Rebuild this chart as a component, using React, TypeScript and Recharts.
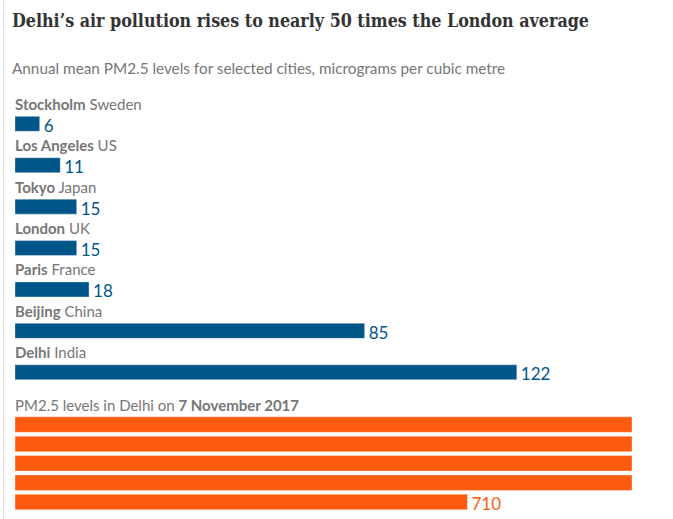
import { Bar, BarChart, LabelList, XAxis, YAxis } from "recharts";

const cities = ["Stockholm", "Los Angeles", "Tokyo", "London", "Paris", "Beijing", "Delhi"];
const countries = ["Sweden", "US", "Japan", "UK", "France", "China", "India"];
const annualMeans = [6, 11, 15, 15, 18, 85, 122];

// Delhi reading on 7 Nov 2017; too long for one row so it wraps
const delhiPeak = 710;
const rowCapacity = 150; // value that fills one full-width row

const BLUE = "#005689";
const ORANGE = "#ff5b0f";
const LABEL_GREY = "#767676";
const SANS = "Lato, 'Open Sans', sans-serif";

const cityRows = cities.map((city, i) => ({ city, country: countries[i], value: annualMeans[i] }));

const peakRows: { row: number; value: number }[] = [];
for (let left = delhiPeak, row = 0; left > 0; left -= rowCapacity, row++) {
  peakRows.push({ row, value: Math.min(left, rowCapacity) });
}

function CityName(props: any) {
  const { x, y, index } = props;
  return (
    <text x={x} y={y - 6.5} fontFamily={SANS} fontSize={15} fill={LABEL_GREY}>
      <tspan fontWeight={700}>{cities[index]}</tspan> {countries[index]}
    </text>
  );
}

function valueLabel(color: string, onlyIndex?: number) {
  return (props: any) => {
    const { x, y, width, height, index, value } = props;
    if (onlyIndex !== undefined && index !== onlyIndex) return null;
    const total = onlyIndex !== undefined ? delhiPeak : value;
    return (
      <text x={x + width + 4} y={y + height + 0.5} fontFamily={SANS} fontSize={17} fill={color}>
        {total}
      </text>
    );
  };
}

export default function App() {
  return (
    <div style={{ position: "absolute", left: 0, top: 0, width: 673, height: 519, background: "#fff" }}>
      <svg width={673} height={519} style={{ position: "absolute", left: 0, top: 0 }}>
        <line x1={3.5} x2={3.5} y1={0} y2={519} stroke="#dcdcdc" />
        <text
          x={12}
          y={27}
          fontFamily="'DejaVu Serif Condensed', 'DejaVu Serif', serif"
          fontWeight={700}
          fontSize={18.5}
          fill="#333"
          textLength={577}
          lengthAdjust="spacingAndGlyphs"
        >
          Delhi’s air pollution rises to nearly 50 times the London average
        </text>
        <text x={12} y={74} fontFamily={SANS} fontSize={15.3} fill={LABEL_GREY}>
          Annual mean PM2.5 levels for selected cities, micrograms per cubic metre
        </text>
        <text x={15} y={411} fontFamily={SANS} fontSize={15} fill={LABEL_GREY}>
          PM2.5 levels in Delhi on <tspan fontWeight={700}>7 November 2017</tspan>
        </text>
      </svg>

      <div style={{ position: "absolute", left: 0, top: 90 }}>
        <BarChart
          width={673}
          height={310}
          data={cityRows}
          layout="vertical"
          margin={{ left: 15, right: 41, top: 13.3, bottom: 6.8 }}
        >
          <XAxis type="number" domain={[0, rowCapacity]} hide />
          <YAxis type="category" dataKey="city" hide />
          <Bar dataKey="value" fill={BLUE} stroke="rgba(255,255,255,0.35)" barSize={15} isAnimationActive={false}>
            <LabelList dataKey="value" content={CityName} />
            <LabelList dataKey="value" content={valueLabel(BLUE)} />
          </Bar>
        </BarChart>
      </div>

      <div style={{ position: "absolute", left: 0, top: 400 }}>
        <BarChart
          width={673}
          height={119}
          data={peakRows}
          layout="vertical"
          margin={{ left: 15, right: 41, top: 14.8, bottom: 7.3 }}
        >
          <XAxis type="number" domain={[0, rowCapacity]} hide />
          <YAxis type="category" dataKey="row" hide />
          <Bar dataKey="value" fill={ORANGE} stroke="rgba(255,255,255,0.35)" barSize={15.5} isAnimationActive={false}>
            <LabelList dataKey="value" content={valueLabel(ORANGE, peakRows.length - 1)} />
          </Bar>
        </BarChart>
      </div>
    </div>
  );
}
